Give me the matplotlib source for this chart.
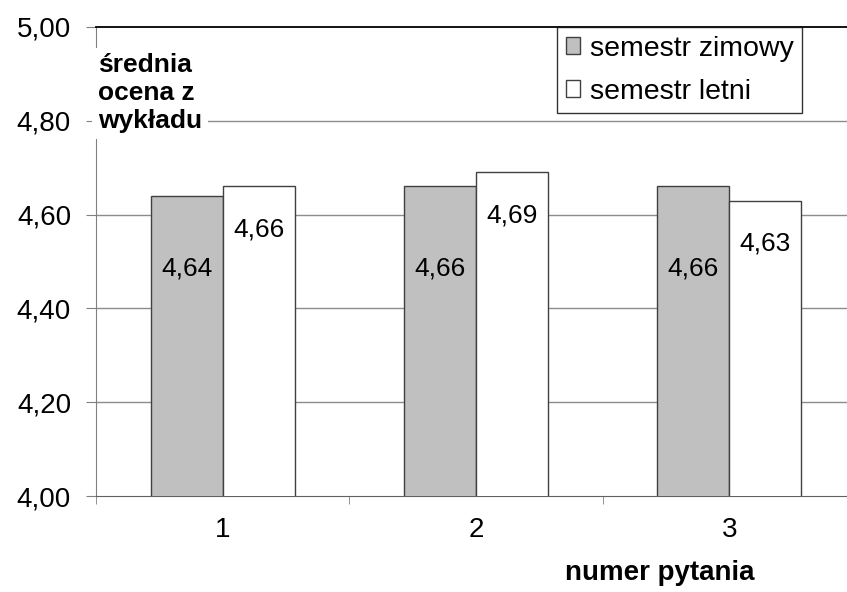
import numpy as np
import matplotlib
matplotlib.use("Agg")
import matplotlib.pyplot as plt

plt.rcParams['font.family'] = ['Liberation Sans', 'DejaVu Sans']

categories = ["1", "2", "3"]
zimowy = [4.64, 4.66, 4.66]
letni = [4.66, 4.69, 4.63]
zimowy_labels = ["4,64", "4,66", "4,66"]
letni_labels = ["4,66", "4,69", "4,63"]
yticks = [4.0, 4.2, 4.4, 4.6, 4.8, 5.0]
ytick_labels = ["4,00", "4,20", "4,40", "4,60", "4,80", "5,00"]

fig = plt.figure(figsize=(8.47, 5.92), dpi=100)
ax = fig.add_axes([96 / 847, (592 - 496) / 592, 760 / 847, (496 - 27) / 592])

x = np.arange(len(categories))
w = 0.284
ax.bar(x - w / 2, zimowy, w, color="#c0c0c0", edgecolor="#404040", linewidth=1,
       label="semestr zimowy", zorder=3)
ax.bar(x + w / 2, letni, w, color="white", edgecolor="#404040", linewidth=1,
       label="semestr letni", zorder=3)

for i in range(len(categories)):
    ax.text(x[i] - w / 2, 4.486, zimowy_labels[i], ha="center", va="center",
            fontsize=19, zorder=4)
    ax.text(x[i] + w / 2, letni[i] - 0.092, letni_labels[i], ha="center",
            va="center", fontsize=19, zorder=4)

ax.set_ylim(4.0, 5.0)
ax.set_xlim(-0.5, 2.5)
ax.set_yticks(yticks)
ax.set_yticklabels(ytick_labels, fontsize=20)
ax.set_xticks(x)
ax.set_xticklabels(categories, fontsize=20)
ax.tick_params(axis="x", length=0, pad=15)
ax.set_xticks([-0.5, 0.5, 1.5, 2.5], minor=True)
ax.tick_params(axis="x", which="minor", length=6, color="#808080", direction="out")
ax.tick_params(axis="y", length=7, color="#808080", pad=11)

for yv in yticks[1:-1]:
    ax.axhline(yv, color="#8c8c8c", linewidth=1, zorder=1)

ax.spines["top"].set_color("black")
ax.spines["top"].set_linewidth(1.3)
ax.spines["right"].set_visible(False)
ax.spines["left"].set_color("#808080")
ax.spines["bottom"].set_color("#606060")

# y axis title sits inside the plot on a white box, like in Excel
fig.text(98 / 847, 1 - 128 / 592, "średnia\nocena z\nwykładu", ha="left",
         va="baseline", fontsize=19, fontweight="bold", linespacing=1.2,
         bbox=dict(facecolor="white", edgecolor="none", pad=4), zorder=5)
fig.text(660 / 847, 1 - 580 / 592, "numer pytania", ha="center", va="baseline",
         fontsize=20, fontweight="bold")

leg = ax.legend(loc="upper left", bbox_to_anchor=((557 - 96) / 760, 1.0),
                fontsize=20.5, frameon=True, fancybox=False, edgecolor="black",
                handlelength=0.5, handleheight=0.5, handletextpad=0.35,
                borderpad=0.3, labelspacing=0.6, borderaxespad=0.0)
leg.get_frame().set_linewidth(1)

fig.savefig("out.png", dpi=100)
